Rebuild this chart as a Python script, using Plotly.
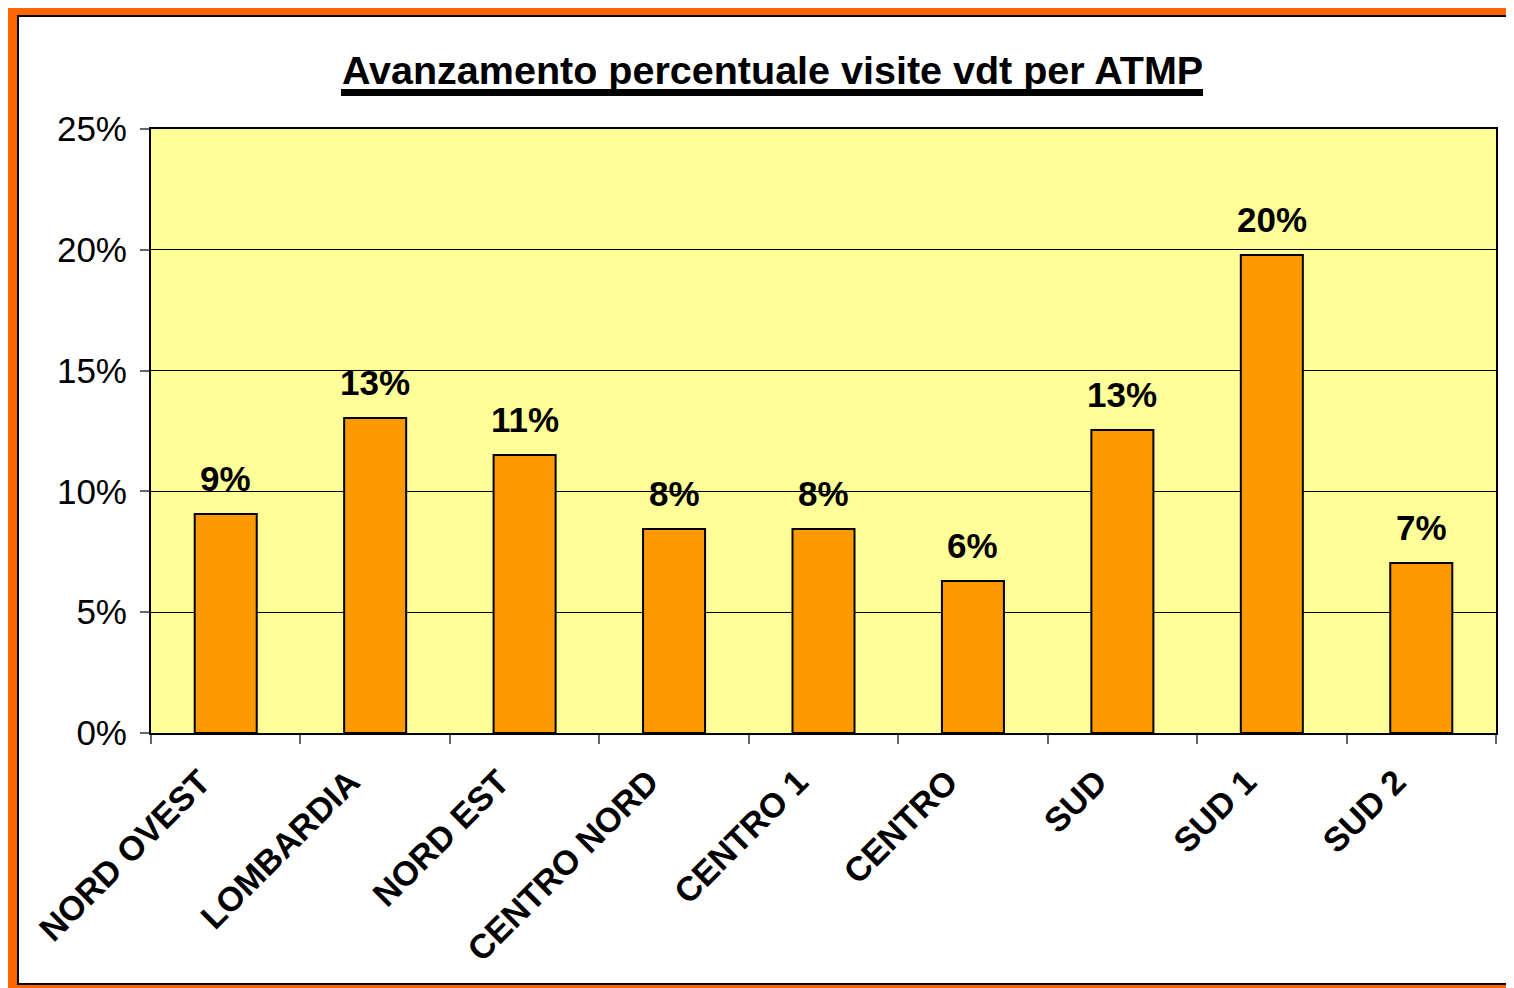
import plotly.graph_objects as go

categories = ["NORD OVEST", "LOMBARDIA", "NORD EST", "CENTRO NORD", "CENTRO 1",
              "CENTRO", "SUD", "SUD 1", "SUD 2"]
values = [0.0906, 0.1304, 0.1151, 0.0844, 0.0844, 0.0629, 0.1254, 0.1978, 0.0704]
labels = ["9%", "13%", "11%", "8%", "8%", "6%", "13%", "20%", "7%"]
y_ticks = [0, 0.05, 0.10, 0.15, 0.20, 0.25]
y_ticktext = ["0%", "5%", "10%", "15%", "20%", "25%"]
title_text = "Avanzamento percentuale visite vdt per ATMP"

OFF = 8  # default page body margin
W, H = 1514 - OFF, 988 - OFF
L, R, T, B = 151, 1496, 129, 733  # plot area on screen

def px(x):
    return (x - L) / (R - L)

def py(y):
    return (B - y) / (B - T)

FONT = "Liberation Sans, Arial, sans-serif"
NB = "\u00a0"

fig = go.Figure(go.Bar(
    x=categories, y=values,
    marker=dict(color="#FF9900", line=dict(color="black", width=2)),
    cliponaxis=False, hoverinfo="x+y",
))

shapes = [
    dict(type="rect", xref="paper", yref="paper", x0=px(6), x1=px(1530), y0=py(1000), y1=py(4),
         fillcolor="#FF6600", line=dict(width=0), layer="below"),
    dict(type="rect", xref="paper", yref="paper", x0=px(18), x1=px(1530), y0=py(984), y1=py(16),
         fillcolor="white", line=dict(color="black", width=2), layer="below"),
    dict(type="rect", xref="paper", yref="paper", x0=0, x1=1, y0=0, y1=1,
         fillcolor="#FFFF99", line=dict(width=0), layer="below"),
    dict(type="rect", xref="paper", yref="paper", x0=px(341), x1=px(1203), y0=py(96), y1=py(89),
         fillcolor="black", line=dict(width=0)),
]

annotations = [dict(text="<b>" + title_text + "</b>", xref="paper", yref="paper",
                    x=px(772), y=py(70), xanchor="center", yanchor="middle", showarrow=False,
                    font=dict(family=FONT, size=39.5, color="black"))]
for c, v, t in zip(categories, values, labels):
    annotations.append(dict(x=c, y=v, xref="x", yref="y", text="<b>" + t + "</b>",
                            showarrow=False, xanchor="center", yanchor="bottom", yshift=14,
                            font=dict(family=FONT, size=35, color="black")))

fig.update_layout(
    width=W, height=H,
    margin=dict(l=L - OFF, r=W - (R - OFF), t=T - OFF, b=H - (B - OFF), pad=0),
    paper_bgcolor="white", plot_bgcolor="rgba(0,0,0,0)",
    showlegend=False, bargap=0.585,
    shapes=shapes, annotations=annotations,
    xaxis=dict(showline=True, linecolor="black", linewidth=2, mirror=True,
               ticks="outside", tickson="boundaries", ticklen=9, tickcolor="#666666", tickwidth=2,
               tickangle=-45, tickfont=dict(family=FONT, size=34, color="black"),
               ticklabelshift=-12,
               tickprefix="<b>", ticksuffix="</b>" + NB + NB),
    yaxis=dict(range=[0, 0.25], tickvals=y_ticks, ticktext=y_ticktext,
               showline=True, linecolor="black", linewidth=2, mirror=True,
               showgrid=True, gridcolor="black", gridwidth=1,
               ticks="outside", ticklen=9, tickcolor="#666666", tickwidth=2,
               ticklabelstandoff=6,
               tickfont=dict(family=FONT, size=35, color="black"), zeroline=False),
)

fig.write_html("out.html")
